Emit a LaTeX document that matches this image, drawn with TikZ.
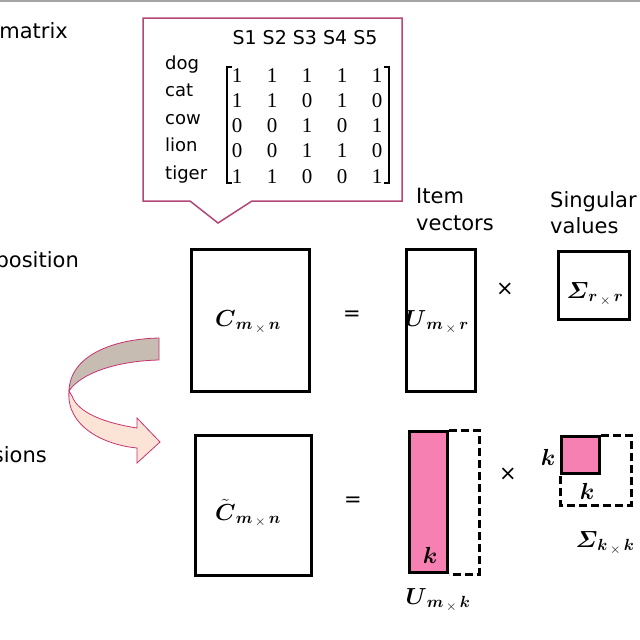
\documentclass[tikz,border=0pt]{standalone}
\usepackage{amsmath}
\usepackage{fontspec}
\setmainfont{DejaVu Sans}
\newfontfamily\numfont{Liberation Serif}
\definecolor{pinkfill}{RGB}{246,128,178}
\definecolor{calloutc}{RGB}{180,70,120}
\definecolor{arrline}{RGB}{200,50,110}
\definecolor{bandgrey}{RGB}{198,188,178}
\definecolor{bandlight}{RGB}{251,228,214}
\definecolor{topline}{RGB}{165,165,165}
\newcommand{\msub}[2]{\boldsymbol{#1}\,_{\times}\,\boldsymbol{#2}}
\begin{document}
\begin{tikzpicture}[x=1pt,y=-1pt,
  mbox/.style={draw=black,line width=3pt,inner sep=0pt},
  pinkbox/.style={mbox,fill=pinkfill},
  dashline/.style={line width=3pt,dash pattern=on 8pt off 4pt},
  lbl/.style={font=\fontsize{21}{24}\selectfont,inner sep=0pt},
  rowlbl/.style={font=\fontsize{18}{20}\selectfont,inner sep=0pt,anchor=base west},
  num/.style={font=\numfont\fontsize{21}{22}\selectfont,inner sep=0pt,anchor=base},
  mathlbl/.style={font=\fontsize{20.74}{22}\selectfont,inner sep=0pt},
  op/.style={font=\fontsize{21}{23}\selectfont,inner sep=0pt},
  bracket/.style={line width=1.5pt,black}
]
\useasboundingbox (0,0) rectangle (640,640);
\fill[white] (0,0) rectangle (640,640);
\draw[topline,line width=2pt] (0,1) -- (640,1);

% side texts
\node[lbl,anchor=base east] (t1) at (68,38) {matrix};
\node[lbl,anchor=base east] (t2) at (79,267) {position};
\node[lbl,anchor=base east] (t3) at (47,462) {sions};

% callout
\draw[calloutc,line width=1.5pt,fill=white] (143,18) -- (402,18) -- (402,201) -- (252,201) -- (218,223) -- (190,201) -- (143,201) -- cycle;
\node[font=\fontsize{19}{21}\selectfont,inner sep=0pt,anchor=base] (hdr) at (305,44) {S1 S2 S3 S4 S5};
\node[rowlbl] (r1) at (165,69) {dog};
\node[rowlbl] (r2) at (165,96.5) {cat};
\node[rowlbl] (r3) at (165,124) {cow};
\node[rowlbl] (r4) at (165,151.5) {lion};
\node[rowlbl] (r5) at (165,179) {tiger};
\foreach \row [count=\i] in {{1,1,1,1,1},{1,1,0,1,0},{0,0,1,0,1},{0,0,1,1,0},{1,1,0,0,1}}{
  \foreach \v [count=\j] in \row {
    \node[num] (m-\i-\j) at ({237+35*(\j-1)},{82+25.25*(\i-1)}) {\v};
  }
}
\draw[bracket] (232,67) -- (227,67) -- (227,183) -- (232,183);
\draw[bracket] (384,67) -- (389,67) -- (389,183) -- (384,183);

% headings
\node[lbl,anchor=base west] (iv1) at (416,203) {Item};
\node[lbl,anchor=base west] (iv2) at (416,230) {vectors};
\node[lbl,anchor=base west] (sv1) at (550,207) {Singular};
\node[lbl,anchor=base west] (sv2) at (550,233) {values};

% top row
\node[mbox,minimum width=118pt,minimum height=142pt] (C) at (250.5,320.5) {};
\node[mathlbl] (Cl) at (248,322) {\scalebox{1.12}{$\boldsymbol{C}_{\msub{m}{n}}$}};
\node[op] (eq1) at (352,316) {=};
\node[mbox,minimum width=69pt,minimum height=142pt] (U) at (441,320.5) {};
\node[mathlbl] (Ul) at (437,322) {\scalebox{1.12}{$\boldsymbol{U}_{\msub{m}{r}}$}};
\node[op] (x1) at (505,289) {×};
\node[mbox,minimum width=71pt,minimum height=68pt] (S) at (594,285.5) {};
\node[mathlbl] (Sl) at (595,294) {\scalebox{1.12}{$\boldsymbol{\varSigma}_{\msub{r}{r}}$}};

% curved arrow
\draw[arrline,line width=0.8pt,fill=bandgrey] (159,338) .. controls (112,339) and (70,356) .. (69,391)
   .. controls (80,374) and (115,361) .. (159,360) -- cycle;
\draw[arrline,line width=0.8pt,fill=bandlight] (69,391) .. controls (66,427) and (105,445) .. (137,448)
   -- (137,463) -- (160,442) -- (137,418) -- (137,428)
   .. controls (105,423) and (78,413) .. (72,396) -- cycle;

% bottom row
\node[mbox,minimum width=116pt,minimum height=140pt] (Ct) at (253.5,505.5) {};
\node[mathlbl] (Ctl) at (248,513) {\scalebox{1.12}{$\tilde{\boldsymbol{C}}_{\msub{m}{n}}$}};
\node[op] (eq2) at (353,502) {=};
\node[pinkbox,minimum width=38pt,minimum height=141pt] (Uk) at (428.5,502) {};
\draw[dashline] (Uk.north east) -- ++(30,0) |- (Uk.south east);
\node[mathlbl] (k1) at (430,555) {\scalebox{1.12}{$\boldsymbol{k}$}};
\node[mathlbl] (Ukl) at (438,600) {\scalebox{1.12}{$\boldsymbol{U}_{\msub{m}{k}}$}};
\node[op] (x2) at (508,474) {×};
\node[pinkbox,minimum width=38pt,minimum height=37pt] (Sk) at (580.5,455) {};
\draw[dashline] (Sk.north east) -- ++(30,0) -- ++(0,70) -| (Sk.south west);
\node[mathlbl] (k2) at (548,457) {\scalebox{1.12}{$\boldsymbol{k}$}};
\node[mathlbl] (k3) at (587,491) {\scalebox{1.12}{$\boldsymbol{k}$}};
\node[mathlbl] (Skl) at (605,543) {\scalebox{1.12}{$\boldsymbol{\varSigma}_{\msub{k}{k}}$}};
\end{tikzpicture}
\end{document}
